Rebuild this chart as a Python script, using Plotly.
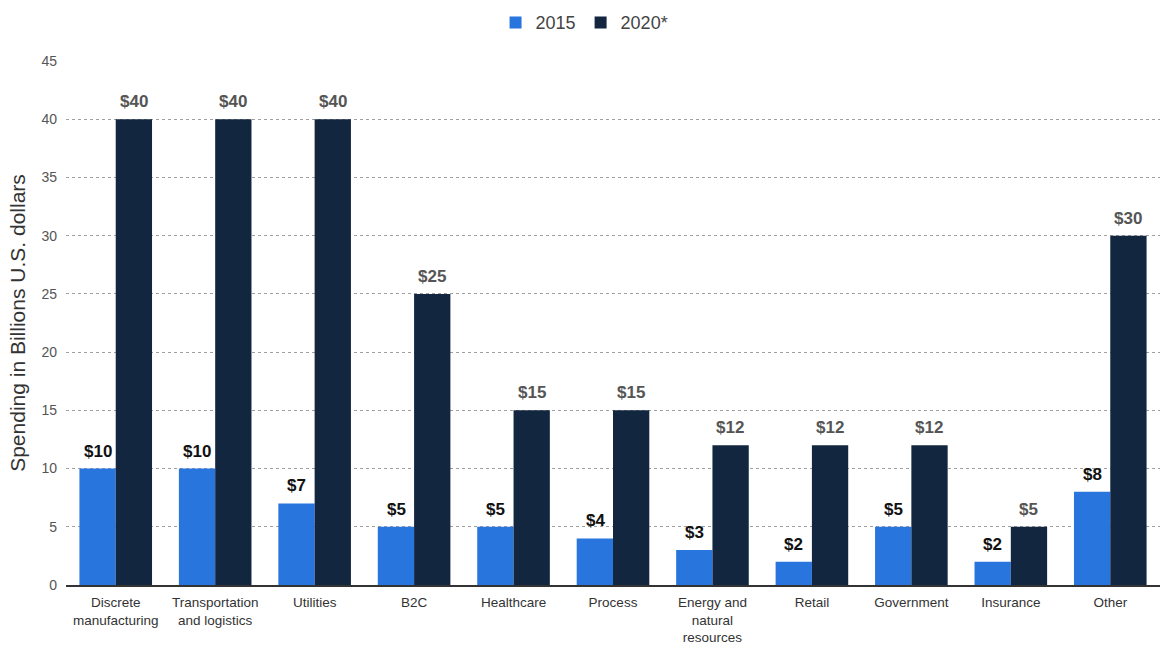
import plotly.graph_objects as go

categories = ["Discrete<br>manufacturing", "Transportation<br>and logistics", "Utilities", "B2C",
              "Healthcare", "Process", "Energy and<br>natural<br>resources", "Retail",
              "Government", "Insurance", "Other"]
values_2015 = [10, 10, 7, 5, 5, 4, 3, 2, 5, 2, 8]
values_2020 = [40, 40, 40, 25, 15, 15, 12, 12, 12, 5, 30]
series_names = ["2015", "2020*"]
y_ticks = [0, 5, 10, 15, 20, 25, 30, 35, 40, 45]

font_family = "Liberation Sans, Arial, sans-serif"
label_colors = ["#111111", "#555555"]
bar_colors = ["#2876dd", "#12263f"]
half_bar_px = 18

fig = go.Figure()
for name, vals, col in zip(series_names, [values_2015, values_2020], bar_colors):
    fig.add_trace(go.Bar(
        x=categories, y=vals, name=name,
        marker=dict(color=col, line=dict(width=0)),
    ))

annotations = []
for vals, col, shift in zip([values_2015, values_2020], label_colors, [-half_bar_px, half_bar_px]):
    for c, v in zip(categories, vals):
        annotations.append(dict(
            x=c, y=v, xref="x", yref="y", text="<b>$" + str(v) + "</b>",
            showarrow=False, xanchor="center", yanchor="bottom",
            xshift=shift, yshift=6,
            font=dict(family=font_family, size=17, color=col),
        ))

fig.update_layout(
    width=1164, height=645,
    margin=dict(l=66, r=4, t=61, b=60, autoexpand=False),
    paper_bgcolor="white", plot_bgcolor="white",
    font=dict(family=font_family, color="#333333"),
    barmode="group", bargap=0.27, bargroupgap=0,
    annotations=annotations,
    legend=dict(orientation="h", x=0.474, xanchor="center", y=1.073, yanchor="middle",
                font=dict(size=18, color="#444444"), itemwidth=30,
                traceorder="normal", tracegroupgap=0),
    xaxis=dict(
        showgrid=False, showline=True, linecolor="#333333", linewidth=2,
        tickfont=dict(size=13.5, color="#333333"), ticks="", automargin=False,
        ticklabelstandoff=4,
    ),
    yaxis=dict(
        range=[0, 45], tickvals=y_ticks, showgrid=True,
        gridcolor="#a0a0a0", griddash="dot", gridwidth=1,
        zeroline=False, showline=False, automargin=False,
        tickfont=dict(size=14, color="#555555"), ticks="",
        ticklabelstandoff=8,
        title=dict(text="Spending in Billions U.S. dollars", font=dict(size=21, color="#333333"), standoff=10),
    ),
)

fig.write_html("out.html", config={"displayModeBar": False},
               post_script="document.body.style.margin='0';")
